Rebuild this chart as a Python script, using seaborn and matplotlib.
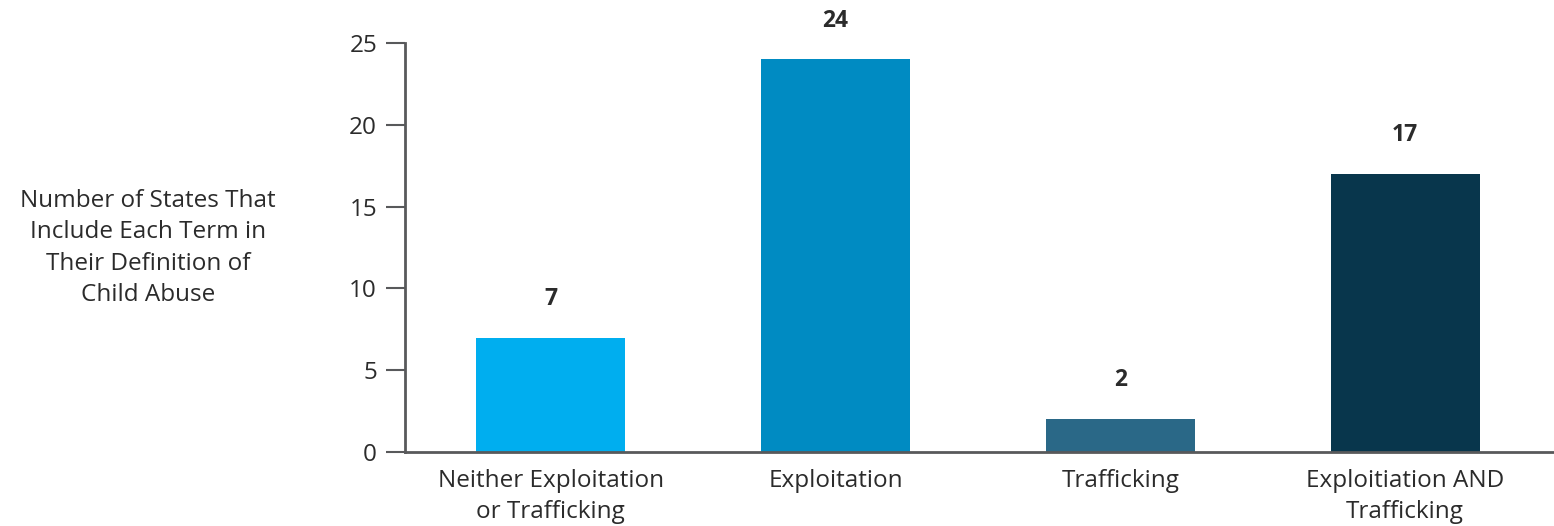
import matplotlib
matplotlib.use("Agg")
import matplotlib.pyplot as plt
import seaborn as sns
import pandas as pd

categories = ["Neither Exploitation\nor Trafficking", "Exploitation", "Trafficking", "Exploitiation AND\nTrafficking"]
values = [7, 24, 2, 17]
bar_colors = ["#00AEEF", "#008BC2", "#2A6887", "#08364C"]
yticks = [0, 5, 10, 15, 20, 25]
ylabel = "Number of States That\nInclude Each Term in\nTheir Definition of\nChild Abuse"

sns.set_theme(style="white")
plt.rcParams['font.family'] = ['Open Sans', 'DejaVu Sans']

df = pd.DataFrame({"cat": categories, "val": values})

fig = plt.figure(figsize=(15.54, 5.26), dpi=100)
ax = fig.add_axes([0.2605, 0.1407, 0.7395, 0.918 - 0.1407])
sns.barplot(data=df, x="cat", y="val", hue="cat", palette=bar_colors, width=0.523,
            legend=False, ax=ax, saturation=1, linewidth=0)

ax.set_ylim(0, 25)
ax.set_xlim(-0.512, 3.523)
ax.set_yticks(yticks)
ax.set_xlabel("")
ax.set_ylabel("")
text_color = "#2B2B2B"
axis_color = "#58595B"
fs = 17.5
for s in ["top", "right"]:
    ax.spines[s].set_visible(False)
for s in ["left", "bottom"]:
    ax.spines[s].set_color(axis_color)
    ax.spines[s].set_linewidth(2)
ax.tick_params(axis="y", length=14, width=1.5, color=axis_color, pad=6,
               labelsize=fs, labelcolor=text_color, left=True)
ax.tick_params(axis="x", length=0, pad=12, labelsize=fs, labelcolor=text_color)
for lab in ax.get_xticklabels():
    lab.set_linespacing(1.4)

for i, v in enumerate(values):
    ax.annotate(str(v), xy=(i, v), xytext=(0, 28), textcoords="offset points",
                ha="center", va="center", fontsize=16.5, fontweight="bold", color=text_color)

fig.text(148 / 1554, 1 - 248 / 526, ylabel, ha="center", va="center",
         fontsize=fs, color=text_color, linespacing=1.4)

fig.savefig("out.png", dpi=100)
